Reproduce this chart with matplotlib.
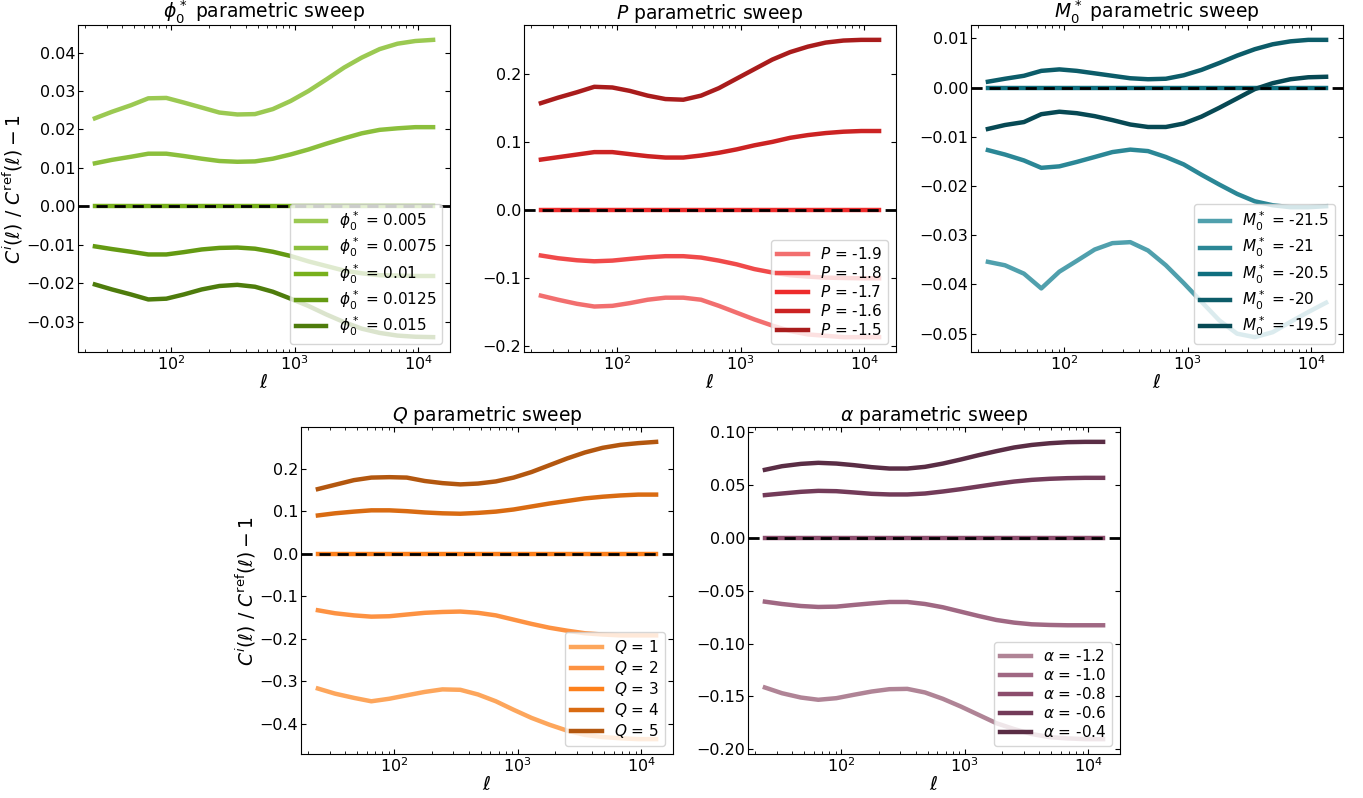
import matplotlib
matplotlib.use("Agg")
import matplotlib.pyplot as plt

# multipoles at which the ratios were evaluated
ell = [24, 33, 47, 65, 91, 126, 176, 245, 342, 476, 664, 925, 1290, 1800,
       2510, 3490, 4870, 6790, 9460, 13200]

# phi_0^* sweep
phi_labels = ["0.005", "0.0075", "0.01", "0.0125", "0.015"]
phi_0005 = [0.0229, 0.0246, 0.0263, 0.0281, 0.0282, 0.0270, 0.0257, 0.0244, 0.0239, 0.0240,
            0.0253, 0.0274, 0.0300, 0.0330, 0.0361, 0.0387, 0.0409, 0.0423, 0.0430, 0.0433]
phi_00075 = [0.0112, 0.0121, 0.0129, 0.0137, 0.0137, 0.0131, 0.0124, 0.0118, 0.0116, 0.0117,
             0.0124, 0.0135, 0.0148, 0.0163, 0.0177, 0.0190, 0.0199, 0.0203, 0.0206, 0.0206]
phi_001 = [0.0] * 20
phi_00125 = [-0.0104, -0.0111, -0.0118, -0.0125, -0.0125, -0.0119, -0.0112, -0.0108, -0.0107, -0.0110,
             -0.0118, -0.0129, -0.0143, -0.0155, -0.0167, -0.0174, -0.0179, -0.0180, -0.0181, -0.0181]
phi_0015 = [-0.0203, -0.0216, -0.0229, -0.0242, -0.0240, -0.0229, -0.0216, -0.0207, -0.0204, -0.0209,
            -0.0222, -0.0240, -0.0259, -0.0281, -0.0301, -0.0318, -0.0329, -0.0336, -0.0339, -0.0340]

# P sweep
p_labels = ["-1.9", "-1.8", "-1.7", "-1.6", "-1.5"]
p_m19 = [-0.126, -0.132, -0.138, -0.142, -0.141, -0.137, -0.132, -0.129, -0.129, -0.132,
         -0.141, -0.151, -0.161, -0.170, -0.178, -0.183, -0.185, -0.187, -0.187, -0.187]
p_m18 = [-0.067, -0.071, -0.074, -0.0755, -0.0745, -0.072, -0.0696, -0.068, -0.068, -0.070,
         -0.0745, -0.080, -0.087, -0.092, -0.096, -0.098, -0.0995, -0.100, -0.1005, -0.1005]
p_m17 = [0.0] * 20
p_m16 = [0.074, 0.0775, 0.0814, 0.085, 0.085, 0.082, 0.079, 0.077, 0.077, 0.080,
         0.084, 0.089, 0.095, 0.100, 0.106, 0.110, 0.113, 0.115, 0.116, 0.116]
p_m15 = [0.157, 0.165, 0.173, 0.181, 0.180, 0.175, 0.168, 0.163, 0.162, 0.168,
         0.179, 0.193, 0.207, 0.221, 0.232, 0.240, 0.246, 0.249, 0.250, 0.250]

# M_0^* sweep
m_labels = ["-21.5", "-21", "-20.5", "-20", "-19.5"]
m_m215 = [-0.0354, -0.0361, -0.0378, -0.0408, -0.0374, -0.0352, -0.0329, -0.0316, -0.0314, -0.0331,
          -0.0361, -0.0397, -0.0435, -0.0473, -0.0500, -0.0507, -0.0497, -0.0476, -0.0456, -0.0437]
m_m21 = [-0.0127, -0.0136, -0.0148, -0.0163, -0.0160, -0.0151, -0.0141, -0.0131, -0.0126, -0.0129,
         -0.0141, -0.0156, -0.0177, -0.0197, -0.0216, -0.0231, -0.0239, -0.0243, -0.0243, -0.0241]
m_m205 = [0.0] * 20
m_m20 = [0.0012, 0.0018, 0.0024, 0.0034, 0.0037, 0.0034, 0.0029, 0.0024, 0.0019, 0.0017,
         0.0018, 0.0025, 0.0036, 0.0050, 0.0065, 0.0078, 0.0088, 0.0094, 0.0097, 0.0097]
m_m195 = [-0.0084, -0.0076, -0.0070, -0.0054, -0.0049, -0.0052, -0.0058, -0.0066, -0.0075, -0.0080,
          -0.0080, -0.0073, -0.0059, -0.0041, -0.0022, -0.0003, 0.0009, 0.0017, 0.0021, 0.0022]

# Q sweep
q_labels = ["1", "2", "3", "4", "5"]
q_1 = [-0.317, -0.329, -0.339, -0.347, -0.341, -0.333, -0.325, -0.319, -0.320, -0.331,
       -0.347, -0.367, -0.386, -0.402, -0.416, -0.426, -0.431, -0.434, -0.436, -0.436]
q_2 = [-0.133, -0.140, -0.145, -0.148, -0.147, -0.143, -0.139, -0.137, -0.136, -0.139,
       -0.145, -0.155, -0.165, -0.174, -0.181, -0.187, -0.190, -0.192, -0.192, -0.192]
q_3 = [0.0] * 20
q_4 = [0.090, 0.095, 0.099, 0.102, 0.102, 0.100, 0.097, 0.095, 0.094, 0.096,
       0.099, 0.104, 0.111, 0.118, 0.124, 0.130, 0.134, 0.137, 0.139, 0.139]
q_5 = [0.152, 0.162, 0.173, 0.179, 0.180, 0.179, 0.171, 0.166, 0.163, 0.165,
       0.170, 0.179, 0.192, 0.208, 0.224, 0.238, 0.249, 0.256, 0.260, 0.263]

# alpha sweep
a_labels = ["-1.2", "-1.0", "-0.8", "-0.6", "-0.4"]
a_m12 = [-0.1415, -0.1469, -0.1510, -0.1531, -0.1516, -0.1484, -0.1453, -0.1431, -0.1428, -0.1462,
         -0.1522, -0.1594, -0.1673, -0.1752, -0.1808, -0.1855, -0.1884, -0.1896, -0.1903, -0.1903]
a_m10 = [-0.0604, -0.0626, -0.0645, -0.0654, -0.0651, -0.0635, -0.0620, -0.0607, -0.0607, -0.0626,
         -0.0657, -0.0698, -0.0739, -0.0777, -0.0802, -0.0818, -0.0824, -0.0827, -0.0827, -0.0827]
a_m08 = [0.0] * 20
a_m06 = [0.0403, 0.0418, 0.0434, 0.0443, 0.0440, 0.0428, 0.0415, 0.0409, 0.0409, 0.0418,
         0.0437, 0.0459, 0.0484, 0.0509, 0.0531, 0.0547, 0.0557, 0.0563, 0.0566, 0.0566]
a_m04 = [0.0642, 0.0676, 0.0698, 0.0708, 0.0701, 0.0686, 0.0667, 0.0654, 0.0654, 0.0670,
         0.0701, 0.0739, 0.0780, 0.0818, 0.0853, 0.0877, 0.0893, 0.0903, 0.0906, 0.0906]

greens = ["#9bc952", "#8bbf3c", "#78b01c", "#649a12", "#4e7c0c"]
reds = ["#f26f6f", "#f04a4a", "#ee2b2b", "#cc2323", "#a91c1c"]
teals = ["#50a0ad", "#2b8796", "#0f6f7f", "#0c5c69", "#074954"]
oranges = ["#fda65c", "#fd9242", "#fd801c", "#d96b12", "#b3570f"]
purples = ["#b08496", "#a06883", "#8c4d6d", "#733b59", "#5a2d45"]

panels = [
    (r"$\phi_0^*$", phi_labels, [phi_0005, phi_00075, phi_001, phi_00125, phi_0015], greens),
    (r"$P$", p_labels, [p_m19, p_m18, p_m17, p_m16, p_m15], reds),
    (r"$M_0^*$", m_labels, [m_m215, m_m21, m_m205, m_m20, m_m195], teals),
    (r"$Q$", q_labels, [q_1, q_2, q_3, q_4, q_5], oranges),
    (r"$\alpha$", a_labels, [a_m12, a_m10, a_m08, a_m06, a_m04], purples),
]

W, H = 1363, 798
boxes = [(78, 25), (524, 25), (971, 25), (301, 427), (748, 427)]
aw, ah = 372, 327

fig = plt.figure(figsize=(W / 100, H / 100), dpi=100)

for i, ((sym, labels, series, cols), (x0, y0)) in enumerate(zip(panels, boxes)):
    ax = fig.add_axes([x0 / W, 1 - (y0 + ah) / H, aw / W, ah / H])
    for lab, ys, c in zip(labels, series, cols):
        ax.plot(ell, ys, color=c, lw=3.2, label=f"{sym} = {lab}")
    ax.axhline(0, color="black", ls="--", lw=2, dashes=(4, 2.5), zorder=5)
    ax.set_xscale("log")
    ax.set_title(f"{sym} parametric sweep", fontsize=13.5, pad=4)
    ax.set_xlabel(r"$\ell$", fontsize=14, labelpad=0)
    if i in (0, 3):
        ax.set_ylabel(r"$C^i(\ell)\ /\ C^{\rm ref}(\ell) - 1$", fontsize=13.5, labelpad=1)
    ax.tick_params(which="both", direction="in", top=True, right=True,
                   labelsize=11.5, pad=2)
    ax.legend(loc="lower right", fontsize=11, labelspacing=0.2, handlelength=2.0)

fig.savefig("out.png", dpi=100)
